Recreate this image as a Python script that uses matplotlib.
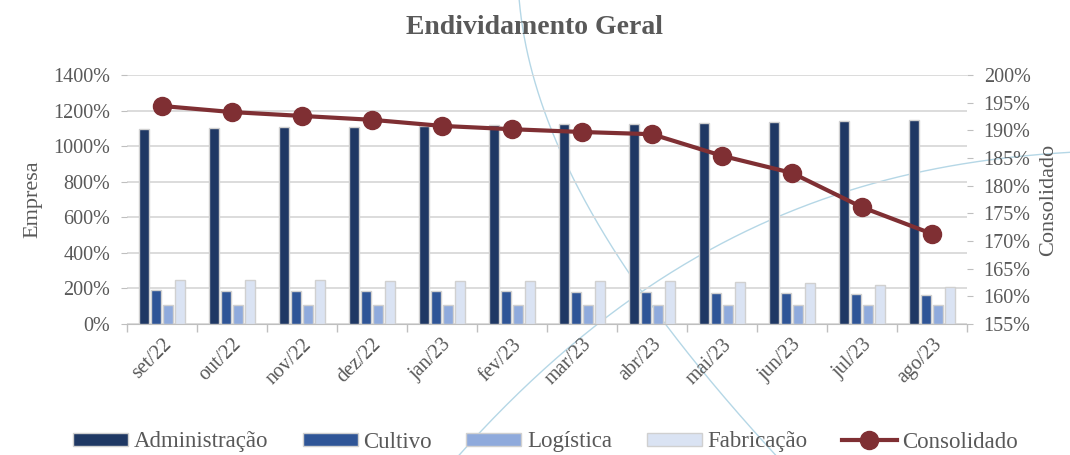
import numpy as np
import matplotlib
matplotlib.use("Agg")
import matplotlib.pyplot as plt
from matplotlib.ticker import FuncFormatter

plt.rcParams['font.family'] = ['Liberation Serif', 'DejaVu Serif']

meses = ["set/22", "out/22", "nov/22", "dez/22", "jan/23", "fev/23",
         "mar/23", "abr/23", "mai/23", "jun/23", "jul/23", "ago/23"]
administracao = [1095, 1100, 1105, 1110, 1114, 1118, 1122, 1126, 1131, 1136, 1141, 1147]
cultivo = [190, 187, 186, 185, 184, 183, 181, 179, 176, 172, 168, 163]
logistica = [107, 107, 107, 107, 107, 107, 107, 107, 107, 107, 107, 107]
fabricacao = [246, 245, 245, 244, 243, 242, 241, 240, 235, 230, 218, 207]
consolidado = [194.4, 193.3, 192.6, 191.9, 190.8, 190.2, 189.7, 189.3, 185.4, 182.3, 176.1, 171.3]

grey = "#595959"
W, H = 1070, 455
fig = plt.figure(figsize=(W / 100, H / 100), dpi=100)

# faint decorative background arcs
bg = fig.add_axes([0, 0, 1, 1], zorder=0)
bg.set_xlim(0, W); bg.set_ylim(H, 0); bg.axis("off")
ys1 = np.array([0, 30, 60, 110, 183, 270, 333, 450])
xs1 = np.array([518, 523, 530, 547, 573, 623, 677, 770])
c1 = np.polyfit(ys1, xs1, 3)
yy = np.linspace(0, 460, 200)
bg.plot(np.polyval(c1, yy), yy, color="#b5d7e6", lw=1.0)
xs2 = np.array([470, 607, 710, 833, 980, 1070])
ys2 = np.array([443, 317, 250, 195, 162, 152])
c2 = np.polyfit(xs2, ys2, 3)
xx = np.linspace(440, 1070, 200)
bg.plot(xx, np.polyval(c2, xx), color="#b5d7e6", lw=1.0)

ax = fig.add_axes([127 / W, 1 - 324 / H, 840 / W, 249 / H], zorder=1)
ax.patch.set_alpha(0)
x = np.arange(len(meses))
bw = 0.13
step = 0.171
series = [(administracao, "Administração", "#1f3864"),
          (cultivo, "Cultivo", "#2f5597"),
          (logistica, "Logística", "#8faadc"),
          (fabricacao, "Fabricação", "#dae3f3")]
handles = []
for i, (vals, lab, col) in enumerate(series):
    b = ax.bar(x + (i - 1.5) * step, vals, width=bw, color=col,
               edgecolor="#d0d0d0", linewidth=1.0, label=lab, zorder=3)
    handles.append(b)

ax.set_xlim(-0.5, len(meses) - 0.5)
ax.set_ylim(0, 1400)
ax.set_yticks(np.arange(0, 1401, 200))
ax.yaxis.set_major_formatter(FuncFormatter(lambda v, p: f"{v:.0f}%"))
ax.grid(axis="y", color="#d9d9d9", lw=1.3, zorder=0)
ax.set_axisbelow(True)
ax.set_xticks(np.arange(-0.5, len(meses), 1.0))
ax.set_xticklabels([])
ax.set_xticks(x, minor=True)
ax.set_xticklabels(meses, minor=True, rotation=45, ha="right",
                   rotation_mode="anchor", fontsize=14.5, color=grey)
ax.tick_params(axis="x", which="minor", length=0, pad=8)
ax.tick_params(axis="x", which="major", length=6, color="#bfbfbf", width=1)
ax.tick_params(axis="y", length=4, color="#bfbfbf", labelsize=14.5, labelcolor=grey, pad=8)
for s in ["top", "left", "right"]:
    ax.spines[s].set_visible(False)
ax.spines["bottom"].set_color("#bfbfbf")
ax.set_ylabel("Empresa", fontsize=16, color=grey, labelpad=8)

ax2 = ax.twinx()
ax2.set_ylim(155, 200)
ax2.set_yticks(np.arange(155, 201, 5))
ax2.yaxis.set_major_formatter(FuncFormatter(lambda v, p: f"{v:.0f}%"))
ln, = ax2.plot(x, consolidado, color="#7f2f33", lw=3, marker="o", ms=13,
               label="Consolidado", zorder=5)
for s in ["top", "left", "right", "bottom"]:
    ax2.spines[s].set_visible(False)
ax2.tick_params(axis="y", length=4, color="#bfbfbf", labelsize=14.5, labelcolor=grey, pad=8)
ax2.set_ylabel("Consolidado", fontsize=16, color=grey, labelpad=6)

fig.text(0.5, 1 - 28 / H, "Endividamento Geral", ha="center", va="center",
         fontsize=20, fontweight="bold", color=grey)

leg = fig.legend(handles + [ln], [h.get_label() for h in handles] + ["Consolidado"],
                 loc="center", bbox_to_anchor=(0.51, 1 - 442 / H), ncol=5,
                 frameon=False, fontsize=16.5, handlelength=2.4, handleheight=0.5,
                 columnspacing=1.5, handletextpad=0.25, borderaxespad=0)
for t in leg.get_texts():
    t.set_color(grey)

fig.savefig("out.png", dpi=100)
